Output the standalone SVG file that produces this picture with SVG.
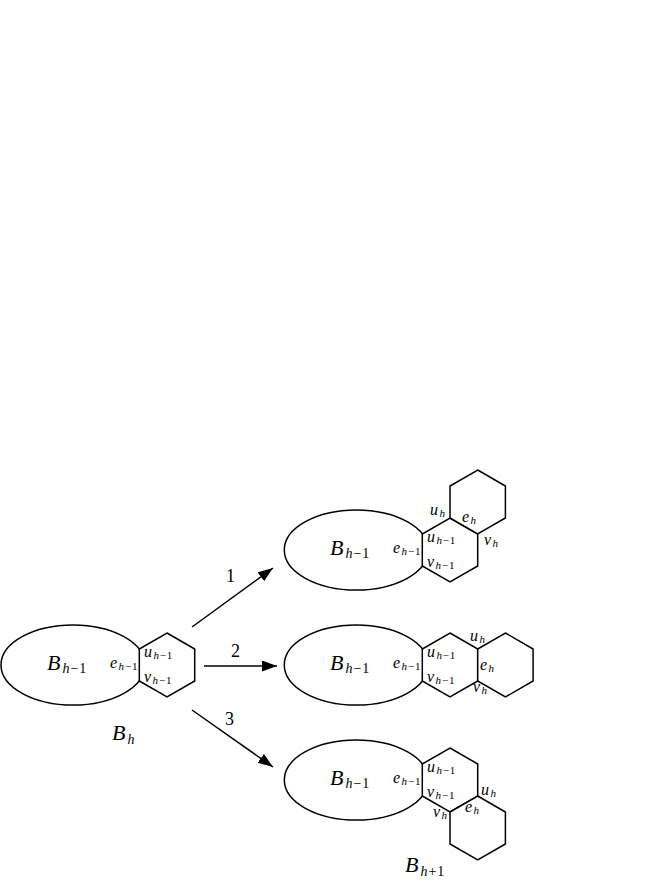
<svg xmlns="http://www.w3.org/2000/svg" width="649" height="880" viewBox="0 0 649 880">
<style>
.bg{fill:#fff}
.el{fill:#fff;stroke:#000;stroke-width:1.5}
.hx{fill:#fff;stroke:#000;stroke-width:1.5;stroke-linejoin:miter}
.ar{stroke:#000;stroke-width:1.5;fill:none}
text{font-family:"Liberation Serif","Times New Roman",serif;fill:#000}
.B{font-size:22px;font-style:italic}
.v{font-size:16px;font-style:italic}
.bs{font-size:14px;letter-spacing:1px}
.s{font-size:11px;letter-spacing:0.8px}
.n{font-style:normal}
.num{font-size:18px}
</style>
<defs>
<marker id="ah" markerUnits="userSpaceOnUse" markerWidth="16" markerHeight="12" refX="15" refY="5.5" orient="auto">
<path d="M0,0 L15,5.5 L0,11 z" fill="#000"/>
</marker>
</defs>
<rect class="bg" x="0" y="0" width="649" height="880"/>

<g id="left">
<ellipse class="el" cx="73" cy="665" rx="72" ry="40"/>
<polygon class="hx" points="167,633 194.7,649 194.7,681 167,697 139.3,681 139.3,649"/>
<text class="B" x="47" y="670">B<tspan class="bs" dx="2" dy="3">h</tspan><tspan class="bs n">−1</tspan></text>
<text class="v" x="110" y="668">e<tspan class="s" dx="1.5" dy="2">h</tspan><tspan class="s n">−1</tspan></text>
<text class="v" x="144" y="657">u<tspan class="s" dx="1.5" dy="2">h</tspan><tspan class="s n">−1</tspan></text>
<text class="v" x="144" y="682">v<tspan class="s" dx="1.5" dy="2">h</tspan><tspan class="s n">−1</tspan></text>
<text class="B" x="112" y="740">B<tspan class="bs" dx="2" dy="4">h</tspan></text>
</g>

<g id="connectors">
<line class="ar" x1="192" y1="627" x2="273" y2="568" marker-end="url(#ah)"/>
<line class="ar" x1="204" y1="666" x2="277" y2="666" marker-end="url(#ah)"/>
<line class="ar" x1="192" y1="710" x2="273" y2="767" marker-end="url(#ah)"/>
<text class="num" x="226" y="582">1</text>
<text class="num" x="231" y="657">2</text>
<text class="num" x="225" y="725">3</text>
</g>

<g id="fig1">
<ellipse class="el" cx="356.3" cy="550" rx="72" ry="40"/>
<polygon class="hx" points="450,518 477.7,534 477.7,566 450,582 422.3,566 422.3,534"/>
<polygon class="hx" points="477.7,470 505.4,486 505.4,518 477.7,534 450,518 450,486"/>
<text class="B" x="330" y="555">B<tspan class="bs" dx="2" dy="3">h</tspan><tspan class="bs n">−1</tspan></text>
<text class="v" x="393" y="553">e<tspan class="s" dx="1.5" dy="2">h</tspan><tspan class="s n">−1</tspan></text>
<text class="v" x="427" y="542">u<tspan class="s" dx="1.5" dy="2">h</tspan><tspan class="s n">−1</tspan></text>
<text class="v" x="427" y="567">v<tspan class="s" dx="1.5" dy="2">h</tspan><tspan class="s n">−1</tspan></text>
<text class="v" x="430" y="515">u<tspan class="s" dx="1.5" dy="2">h</tspan></text>
<text class="v" x="462" y="522">e<tspan class="s" dx="1.5" dy="2">h</tspan></text>
<text class="v" x="484" y="545">v<tspan class="s" dx="1.5" dy="2">h</tspan></text>
</g>

<g id="fig2">
<ellipse class="el" cx="356.3" cy="665" rx="72" ry="40"/>
<polygon class="hx" points="450,633 477.7,649 477.7,681 450,697 422.3,681 422.3,649"/>
<polygon class="hx" points="505.4,633 533.1,649 533.1,681 505.4,697 477.7,681 477.7,649"/>
<text class="B" x="330" y="670">B<tspan class="bs" dx="2" dy="3">h</tspan><tspan class="bs n">−1</tspan></text>
<text class="v" x="393" y="668">e<tspan class="s" dx="1.5" dy="2">h</tspan><tspan class="s n">−1</tspan></text>
<text class="v" x="427" y="657">u<tspan class="s" dx="1.5" dy="2">h</tspan><tspan class="s n">−1</tspan></text>
<text class="v" x="427" y="682">v<tspan class="s" dx="1.5" dy="2">h</tspan><tspan class="s n">−1</tspan></text>
<text class="v" x="470" y="641">u<tspan class="s" dx="1.5" dy="2">h</tspan></text>
<text class="v" x="480" y="670">e<tspan class="s" dx="1.5" dy="2">h</tspan></text>
<text class="v" x="473" y="692">v<tspan class="s" dx="1.5" dy="2">h</tspan></text>
</g>

<g id="fig3">
<ellipse class="el" cx="356.3" cy="780" rx="72" ry="40"/>
<polygon class="hx" points="450,748 477.7,764 477.7,796 450,812 422.3,796 422.3,764"/>
<polygon class="hx" points="477.7,796 505.4,812 505.4,844 477.7,860 450,844 450,812"/>
<text class="B" x="330" y="785">B<tspan class="bs" dx="2" dy="3">h</tspan><tspan class="bs n">−1</tspan></text>
<text class="v" x="393" y="783">e<tspan class="s" dx="1.5" dy="2">h</tspan><tspan class="s n">−1</tspan></text>
<text class="v" x="427" y="772">u<tspan class="s" dx="1.5" dy="2">h</tspan><tspan class="s n">−1</tspan></text>
<text class="v" x="427" y="797">v<tspan class="s" dx="1.5" dy="2">h</tspan><tspan class="s n">−1</tspan></text>
<text class="v" x="481" y="795">u<tspan class="s" dx="1.5" dy="2">h</tspan></text>
<text class="v" x="465" y="812">e<tspan class="s" dx="1.5" dy="2">h</tspan></text>
<text class="v" x="433" y="817">v<tspan class="s" dx="1.5" dy="2">h</tspan></text>
<text class="B" x="405" y="872">B<tspan class="bs" dx="2" dy="4">h</tspan><tspan class="bs n">+1</tspan></text>
</g>
</svg>
